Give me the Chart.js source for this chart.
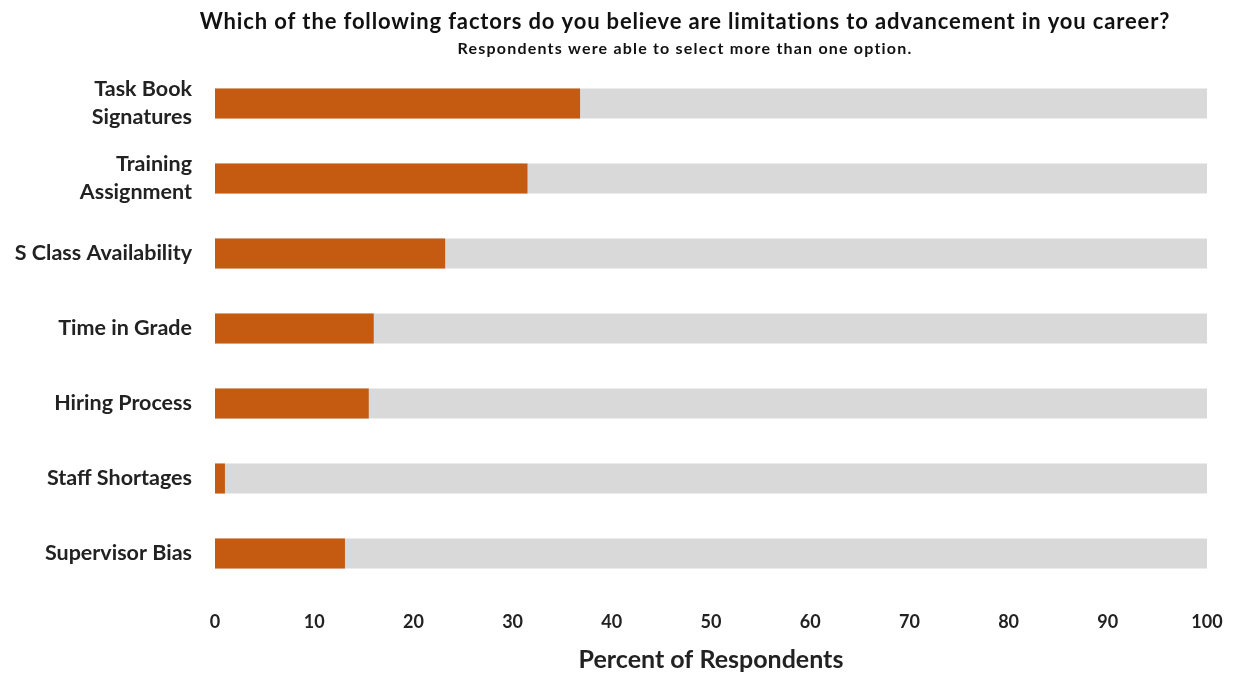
<!DOCTYPE html>
<html>
<head>
<meta charset="utf-8">
<script src="https://cdn.jsdelivr.net/npm/chart.js@4/dist/chart.umd.min.js"></script>
<style>
  body { margin: 0; background: #fff; }
  #wrap { width: 1238px; height: 677px; }
</style>
</head>
<body>
<div id="wrap"><canvas id="grafico" width="1238" height="677"></canvas></div>
<script>
const TITULO = "Which of the following factors do you believe are limitations to advancement in you career?";
const SUBTITULO = "Respondents were able to select more than one option.";
const categorias = [
  ["Task Book", "Signatures"],
  ["Training", "Assignment"],
  "S Class Availability",
  "Time in Grade",
  "Hiring Process",
  "Staff Shortages",
  "Supervisor Bias"
];
const percentuais = [36.8, 31.5, 23.2, 16.0, 15.5, 1.0, 13.1];
const totais = [100, 100, 100, 100, 100, 100, 100];
const FONTE = "Lato, 'Open Sans', sans-serif";

// titulo desenhado a mao pra ficar na mesma posicao da imagem
const tituloPlugin = {
  id: "tituloFixo",
  afterDraw(chart) {
    const ctx = chart.ctx;
    ctx.save();
    ctx.fillStyle = "#111";
    ctx.textAlign = "center";
    ctx.textBaseline = "middle";
    ctx.font = "bold 22px " + FONTE;
    ctx.letterSpacing = "0.85px";
    ctx.fillText(TITULO, 685, 22);
    ctx.font = "bold 16px " + FONTE;
    ctx.letterSpacing = "1.2px";
    ctx.fillText(SUBTITULO, 685, 49);
    ctx.restore();
  }
};

const ctx = document.getElementById("grafico").getContext("2d");
new Chart(ctx, {
  type: "bar",
  data: {
    labels: categorias,
    datasets: [
      { label: "Percent", data: percentuais, backgroundColor: "#c55a11" },
      { label: "Total", data: totais, backgroundColor: "#d9d9d9" }
    ]
  },
  options: {
    indexAxis: "y",
    responsive: false,
    animation: false,
    grouped: false,
    barPercentage: 0.4,
    categoryPercentage: 1,
    layout: { padding: { top: 66, right: 31, bottom: 2, left: 12 } },
    plugins: {
      legend: { display: false },
      tooltip: { enabled: false }
    },
    scales: {
      x: {
        min: 0,
        max: 100,
        afterFit: (scale) => {
          scale.height = 84;
          scale.paddingLeft = 0;
          scale.paddingRight = 0;
        },
        ticks: { stepSize: 10, color: "#222", padding: 20, font: { family: FONTE, size: 18, weight: "bold" } },
        grid: { display: false, drawTicks: false },
        border: { display: false },
        title: { display: true, text: "Percent of Respondents", color: "#222", padding: { top: 12, bottom: 0 }, font: { family: FONTE, size: 25, weight: "bold" } }
      },
      y: {
        afterFit: (scale) => { scale.width = 203; },
        ticks: { color: "#222", padding: 23, font: { family: FONTE, size: 21.5, weight: "bold", lineHeight: 1.3 } },
        grid: { display: false, drawTicks: false },
        border: { display: false }
      }
    }
  },
  plugins: [tituloPlugin]
});
</script>
</body>
</html>
